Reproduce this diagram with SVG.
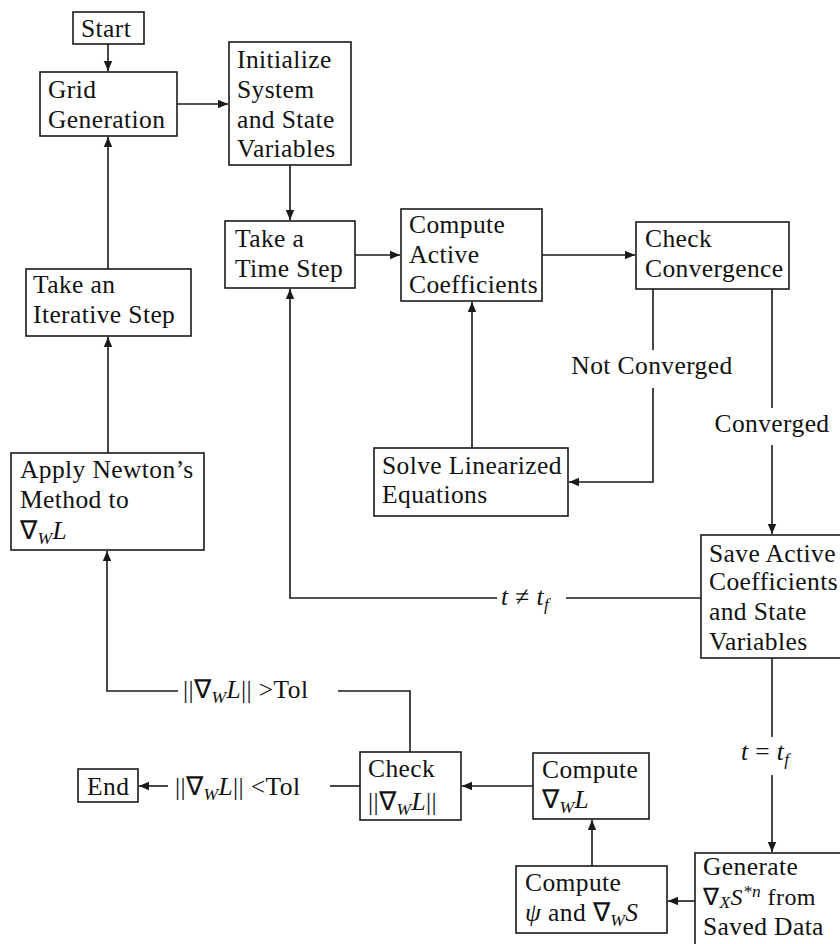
<svg xmlns="http://www.w3.org/2000/svg" width="840" height="944" viewBox="0 0 840 944">
<style>
.box{fill:none;stroke:#1a1a1a;stroke-width:1.6}
.ln{fill:none;stroke:#1a1a1a;stroke-width:1.6}
.it{font-style:italic}
.sub{font-style:italic;font-size:17.5px}
</style>
<defs>
<marker id="arr" markerUnits="userSpaceOnUse" markerWidth="12" markerHeight="10" refX="10" refY="5" orient="auto">
<path d="M0,0.8 L10,5 L0,9.2 Z" fill="#1a1a1a"/>
</marker>
</defs>
<rect width="840" height="944" fill="#ffffff"/>
<g font-family="Liberation Serif" font-size="25.5" letter-spacing="0.4" fill="#111">
<g id="connectors">
<path class="ln" d="M108,44 V71" marker-end="url(#arr)"/>
<path class="ln" d="M177,104 H228" marker-end="url(#arr)"/>
<path class="ln" d="M290,165 V220" marker-end="url(#arr)"/>
<path class="ln" d="M355,255 H400" marker-end="url(#arr)"/>
<path class="ln" d="M542,255 H635" marker-end="url(#arr)"/>
<path class="ln" d="M653,289 V350"/>
<path class="ln" d="M653,388 V482 H569" marker-end="url(#arr)"/>
<path class="ln" d="M472,448 V302" marker-end="url(#arr)"/>
<path class="ln" d="M772,289 V408"/>
<path class="ln" d="M772,445 V534" marker-end="url(#arr)"/>
<path class="ln" d="M701,598 H566"/>
<path class="ln" d="M497,598 H290 V289" marker-end="url(#arr)"/>
<path class="ln" d="M772,658 V737"/>
<path class="ln" d="M772,775 V852" marker-end="url(#arr)"/>
<path class="ln" d="M695,901 H668" marker-end="url(#arr)"/>
<path class="ln" d="M592,866 V820" marker-end="url(#arr)"/>
<path class="ln" d="M533,786 H462" marker-end="url(#arr)"/>
<path class="ln" d="M410,752 V691 H338"/>
<path class="ln" d="M178,691 H107 V551" marker-end="url(#arr)"/>
<path class="ln" d="M360,786 H330"/>
<path class="ln" d="M168,786 H139" marker-end="url(#arr)"/>
<path class="ln" d="M108,453 V337" marker-end="url(#arr)"/>
<path class="ln" d="M108,269 V137" marker-end="url(#arr)"/>
<text x="652" y="374" text-anchor="middle">Not Converged</text>
<text x="772" y="432" text-anchor="middle">Converged</text>
<text x="501" y="605"><tspan class="it">t</tspan> ≠ <tspan class="it">t</tspan><tspan class="sub" dy="5">f</tspan></text>
<text x="741" y="760"><tspan class="it">t</tspan> = <tspan class="it">t</tspan><tspan class="sub" dy="5">f</tspan></text>
<text x="183" y="698">||∇<tspan class="sub" dy="5">W</tspan><tspan class="it" dy="-5">L</tspan>|| &gt;Tol</text>
<text x="175" y="795">||∇<tspan class="sub" dy="5">W</tspan><tspan class="it" dy="-5">L</tspan>|| &lt;Tol</text>
</g>

<g id="start"><rect class="box" x="73" y="12" width="71" height="32"/><text x="81" y="37">Start</text></g>
<g id="grid"><rect class="box" x="40" y="72" width="137" height="64"/><text x="48" y="98">Grid</text><text x="48" y="128">Generation</text></g>
<g id="init"><rect class="box" x="229" y="42" width="122" height="123"/><text x="237" y="68">Initialize</text><text x="237" y="98">System</text><text x="237" y="128">and State</text><text x="237" y="157">Variables</text></g>
<g id="timestep"><rect class="box" x="225" y="221" width="130" height="67"/><text x="235" y="247">Take a</text><text x="235" y="277">Time Step</text></g>
<g id="compute-active"><rect class="box" x="401" y="209" width="141" height="92"/><text x="409" y="233">Compute</text><text x="409" y="263">Active</text><text x="409" y="293">Coefficients</text></g>
<g id="check-conv"><rect class="box" x="636" y="222" width="153" height="67"/><text x="645" y="247">Check</text><text x="645" y="277">Convergence</text></g>
<g id="solve"><rect class="box" x="374" y="448" width="194" height="68"/><text x="382" y="474">Solve Linearized</text><text x="382" y="503">Equations</text></g>
<g id="iterative"><rect class="box" x="26" y="269" width="165" height="67"/><text x="33" y="293">Take an</text><text x="33" y="323">Iterative Step</text></g>
<g id="newton"><rect class="box" x="11" y="453" width="193" height="97"/><text x="20" y="478">Apply Newton’s</text><text x="20" y="508">Method to</text><text x="20" y="539">∇<tspan class="sub" dy="5">W</tspan><tspan class="it" dy="-5">L</tspan></text></g>
<g id="save"><rect class="box" x="701" y="535" width="160" height="123"/><text x="709" y="562">Save Active</text><text x="709" y="590">Coefficients</text><text x="709" y="620">and State</text><text x="709" y="650">Variables</text></g>
<g id="end"><rect class="box" x="78" y="769" width="60" height="33"/><text x="87" y="795">End</text></g>
<g id="check-grad"><rect class="box" x="360" y="752" width="101" height="68"/><text x="368" y="777">Check</text><text x="368" y="810">||∇<tspan class="sub" dy="5">W</tspan><tspan class="it" dy="-5">L</tspan>||</text></g>
<g id="compute-grad"><rect class="box" x="533" y="753" width="116" height="66"/><text x="542" y="778">Compute</text><text x="542" y="808">∇<tspan class="sub" dy="5">W</tspan><tspan class="it" dy="-5">L</tspan></text></g>
<g id="compute-psi"><rect class="box" x="516" y="866" width="151" height="67"/><text x="525" y="891">Compute</text><text x="525" y="921"><tspan class="it">ψ</tspan> and ∇<tspan class="sub" dy="5">W</tspan><tspan class="it" dy="-5">S</tspan></text></g>
<g id="generate"><rect class="box" x="695" y="853" width="170" height="110"/><text x="703" y="875">Generate</text><text x="703" y="905" font-size="24">∇<tspan class="sub" dy="3" font-size="16">X</tspan><tspan class="it" dy="-3">S</tspan><tspan class="sub" dy="-8" font-size="15">*n</tspan><tspan dy="8"> from</tspan></text><text x="703" y="935">Saved Data</text></g>
</g>
</svg>
